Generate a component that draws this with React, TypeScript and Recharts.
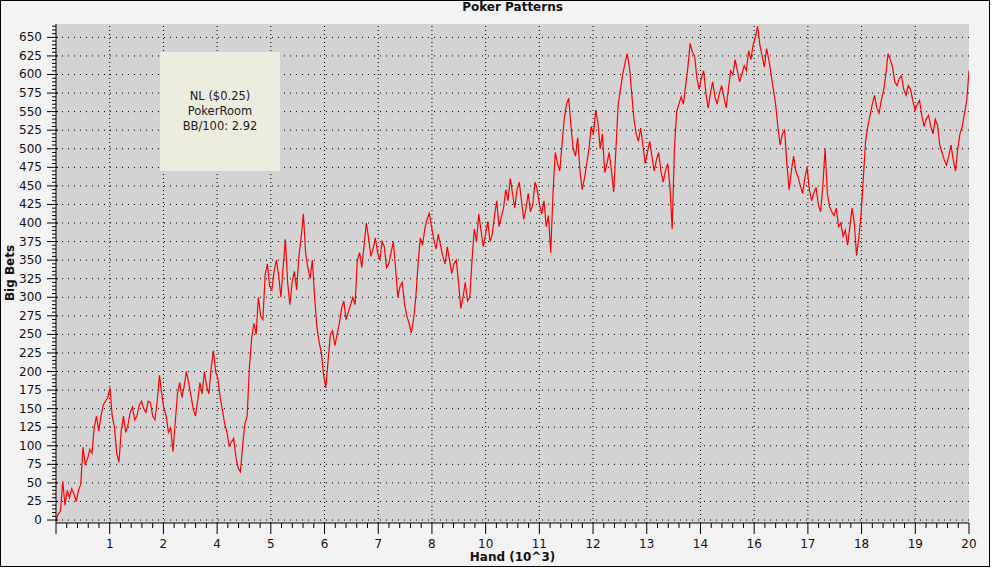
import React from "react";
import { CartesianGrid, Line, LineChart, ReferenceLine, XAxis, YAxis } from "recharts";

// hands are in thousands, sampled every 0.05k
const TOTAL_HANDS_K = 20.3;
const HAND_STEP_K = 0.05;

const bigBets = [
  0, 8, 12, 52, 20, 40, 30, 42, 35, 25, 40, 48, 98, 75, 82, 95, 90, 125, 140, 120,
  140, 155, 160, 165, 178, 140, 125, 90, 78, 120, 140, 118, 128, 145, 152, 135, 140, 155, 160, 150,
  145, 160, 158, 140, 135, 160, 195, 170, 150, 140, 118, 125, 92, 130, 170, 185, 165, 180, 200, 185,
  168, 150, 140, 160, 185, 170, 200, 180, 170, 205, 228, 200, 190, 165, 148, 130, 118, 100, 105, 110,
  85, 70, 65, 100, 130, 140, 205, 245, 265, 250, 300, 275, 270, 330, 345, 315, 310, 335, 350, 330,
  300, 340, 378, 320, 290, 320, 335, 310, 355, 380, 412, 360, 340, 325, 350, 300, 260, 240, 225, 195,
  178, 215, 250, 255, 235, 250, 265, 285, 295, 270, 280, 290, 300, 290, 350, 360, 340, 370, 400, 380,
  355, 365, 380, 360, 350, 375, 368, 340, 345, 360, 375, 340, 300, 315, 320, 290, 275, 265, 252, 270,
  300, 345, 380, 370, 392, 405, 413, 395, 378, 365, 385, 370, 355, 345, 368, 350, 332, 345, 350, 320,
  285, 300, 320, 295, 300, 350, 392, 375, 412, 390, 368, 385, 402, 375, 385, 410, 430, 395, 408, 420,
  445, 430, 460, 440, 420, 445, 455, 430, 405, 420, 440, 415, 425, 455, 445, 425, 412, 430, 395, 410,
  360, 440, 495, 480, 470, 505, 540, 560, 568, 530, 500, 490, 515, 470, 445, 460, 480, 500, 530, 520,
  552, 535, 500, 520, 468, 480, 495, 470, 442, 500, 560, 580, 600, 615, 628, 610, 575, 540, 520, 510,
  528, 505, 480, 495, 510, 490, 470, 485, 495, 470, 455, 470, 480, 450, 392, 500, 550, 560, 570, 560,
  585, 610, 642, 630, 625, 595, 580, 595, 605, 575, 555, 575, 590, 570, 560, 575, 585, 570, 555, 580,
  605, 600, 620, 605, 590, 600, 612, 605, 632, 620, 640, 650, 665, 640, 625, 610, 635, 620, 600, 580,
  560, 530, 505, 520, 525, 480, 445, 470, 490, 470, 462, 450, 440, 460, 475, 445, 430, 440, 448, 425,
  415, 450, 500, 440, 422, 415, 410, 420, 395, 400, 382, 390, 370, 395, 420, 400, 356, 380, 412, 460,
  510, 530, 545, 560, 572, 555, 548, 565, 578, 600, 628, 620, 610, 590, 585, 595, 598, 580, 572, 585,
  580, 565, 552, 560, 565, 545, 530, 540, 545, 530, 520, 540, 532, 505, 495, 485, 478, 490, 505, 485,
  470, 500, 520, 530, 548, 565, 605,
];

// the original axis rounds its odd tick values, so some numbers are skipped
const xTickLabels = ["", "1", "2", "4", "5", "6", "7", "8", "10", "11", "12", "13", "14", "16", "17", "18", "19", "20"];
const yTickLabels = [
  0, 25, 50, 75, 100, 125, 150, 175, 200, 225, 250, 275, 300, 325,
  350, 375, 400, 425, 450, 475, 500, 525, 550, 575, 600, 625, 650,
];
const infoLines = ["NL ($0.25)", "PokerRoom", "BB/100: 2.92"];

const Y_MIN = -4;
const Y_MAX = 668;
const X_DIV = xTickLabels.length - 1;
const X_MINOR = 5;
const Y_MINOR_STEP = 5;

const data = bigBets.map((v, i) => ({ hand: +(i * HAND_STEP_K).toFixed(2), bets: v }));

const xMajor = xTickLabels.map((_, i) => (i * TOTAL_HANDS_K) / X_DIV);
const xAll = Array.from({ length: X_DIV * X_MINOR + 1 }, (_, k) => (k * TOTAL_HANDS_K) / (X_DIV * X_MINOR));
const yAll = Array.from({ length: Math.floor(Y_MAX / Y_MINOR_STEP) + 1 }, (_, k) => k * Y_MINOR_STEP);

const FONT = "'DejaVu Sans', Verdana, sans-serif";

const xIndex = (v: number) => {
  const k = (v * X_DIV) / TOTAL_HANDS_K;
  const r = Math.round(k);
  return Math.abs(k - r) < 1e-6 ? r : -1;
};

const BottomTick = (props: any) => {
  const { x, y, payload } = props;
  const i = xIndex(payload.value);
  const major = i >= 0;
  return (
    <g>
      <line x1={x} x2={x} y1={y} y2={y + (major ? 11 : 5)} stroke="#000" />
      {major && xTickLabels[i] ? (
        <text x={x} y={y + 25} textAnchor="middle" fontSize={12} fontFamily={FONT} fill="#111">
          {xTickLabels[i]}
        </text>
      ) : null}
    </g>
  );
};

const TopTick = (props: any) => {
  const { x, y, payload } = props;
  const major = xIndex(payload.value) >= 0;
  return <line x1={x} x2={x} y1={y} y2={y + (major ? 7 : 4)} stroke="#000" />;
};

const LeftTick = (props: any) => {
  const { x, y, payload } = props;
  const major = payload.value % 25 === 0;
  return (
    <g>
      <line x1={x - (major ? 9 : 4)} x2={x + (major ? 2 : 0)} y1={y} y2={y} stroke="#000" />
      {major ? (
        <text x={x - 14} y={y + 4} textAnchor="end" fontSize={12} fontFamily={FONT} fill="#111">
          {payload.value}
        </text>
      ) : null}
    </g>
  );
};

const RightTick = (props: any) => {
  const { x, y, payload } = props;
  const major = payload.value % 25 === 0;
  return <line x1={x - (major ? 7 : 3)} x2={x} y1={y} y2={y} stroke="#000" />;
};

export default function App() {
  return (
    <div style={{ position: "absolute", left: 0, top: 0, width: 992, height: 568, background: "#fff", fontFamily: FONT }}>
      <div
        style={{
          position: "absolute",
          left: 0,
          top: 0,
          width: 990,
          height: 567,
          boxSizing: "border-box",
          border: "1px solid #000",
          background: "#f3f3f3",
        }}
      />
      <div style={{ position: "absolute", left: 56, width: 913, top: 0, textAlign: "center", fontWeight: "bold", fontSize: 12, lineHeight: "14px", color: "#111" }}>
        Poker Patterns
      </div>
      <div style={{ position: "absolute", left: 56, width: 913, top: 550, textAlign: "center", fontWeight: "bold", fontSize: 12, lineHeight: "14px", color: "#111" }}>
        Hand (10^3)
      </div>
      <div
        style={{
          position: "absolute",
          left: 10,
          top: 273,
          transform: "translate(-50%, -50%) rotate(-90deg)",
          fontWeight: "bold",
          fontSize: 12,
          lineHeight: "14px",
          color: "#111",
          whiteSpace: "nowrap",
        }}
      >
        Big Bets
      </div>

      <div style={{ position: "absolute", left: 0, top: 0 }}>
        <LineChart width={992} height={568} data={data} margin={{ top: 24, right: 23, bottom: 0, left: 0 }}>
          <CartesianGrid horizontal={false} vertical={false} fill="#d3d3d3" />
          <XAxis
            dataKey="hand"
            type="number"
            domain={[0, TOTAL_HANDS_K]}
            ticks={xAll}
            interval={0}
            height={45}
            tickSize={0}
            tickMargin={0}
            tickLine={false}
            axisLine={{ stroke: "#000" }}
            tick={<BottomTick />}
            allowDataOverflow
          />
          <XAxis
            xAxisId="top"
            orientation="top"
            dataKey="hand"
            type="number"
            domain={[0, TOTAL_HANDS_K]}
            ticks={xAll}
            interval={0}
            height={0}
            tickSize={0}
            tickMargin={0}
            tickLine={false}
            axisLine={{ stroke: "#000" }}
            tick={<TopTick />}
            allowDataOverflow
          />
          <YAxis
            type="number"
            domain={[Y_MIN, Y_MAX]}
            ticks={yAll}
            interval={0}
            width={56}
            tickSize={0}
            tickMargin={0}
            tickLine={false}
            axisLine={{ stroke: "#000" }}
            tick={<LeftTick />}
            allowDataOverflow
          />
          <YAxis
            yAxisId="right"
            orientation="right"
            type="number"
            domain={[Y_MIN, Y_MAX]}
            ticks={yAll}
            interval={0}
            width={0}
            tickSize={0}
            tickMargin={0}
            tickLine={false}
            axisLine={{ stroke: "#000" }}
            tick={<RightTick />}
            allowDataOverflow
          />
          {yTickLabels.map((v) => (
            <ReferenceLine key={"gy" + v} y={v} stroke="#000" strokeDasharray="1 5" />
          ))}
          {xMajor.slice(1, -1).map((v) => (
            <ReferenceLine key={"gx" + v} x={v} stroke="#000" strokeDasharray="1 3" />
          ))}
          <Line
            type="linear"
            dataKey="bets"
            stroke="#ff0000"
            strokeWidth={1.2}
            dot={false}
            isAnimationActive={false}
          />
        </LineChart>
      </div>

      <div
        style={{
          position: "absolute",
          left: 160,
          top: 52,
          width: 120,
          height: 119,
          background: "#ecebdf",
          display: "flex",
          flexDirection: "column",
          justifyContent: "center",
          alignItems: "center",
          fontSize: 11.5,
          lineHeight: "15px",
          color: "#222",
        }}
      >
        {infoLines.map((t) => (
          <div key={t}>{t}</div>
        ))}
      </div>
    </div>
  );
}
